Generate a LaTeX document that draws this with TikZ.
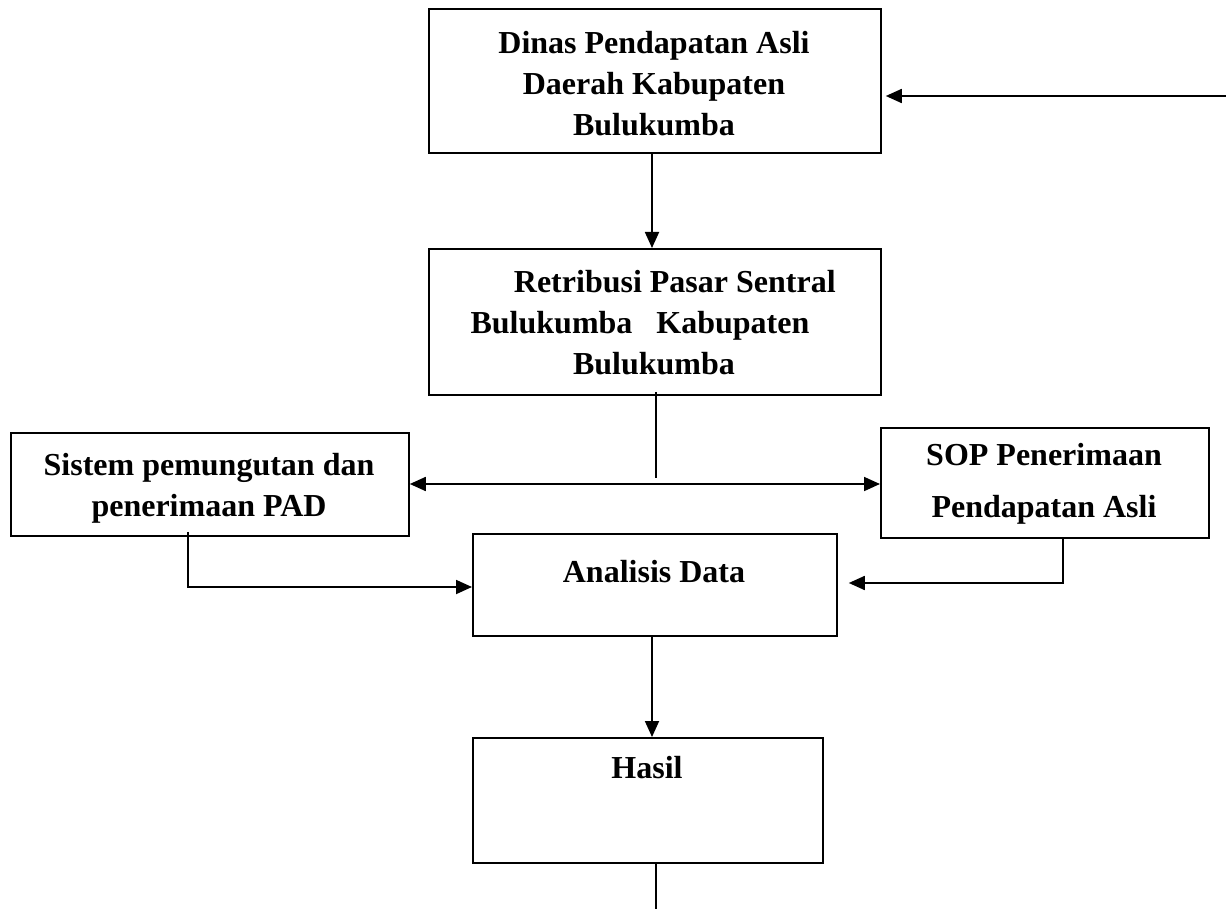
\documentclass[tikz,border=0pt]{standalone}
\usepackage{fontspec}
\setmainfont{Liberation Serif}
\usetikzlibrary{arrows.meta,calc}
\tikzset{
  box/.style={draw, line width=1.8pt, rectangle, anchor=north west, inner sep=0pt},
  lbl/.style={font=\fontsize{32}{41}\selectfont\bfseries, align=center, inner sep=0pt},
  conn/.style={line width=1.8pt},
  arr/.style={conn, -{Triangle[length=16pt,width=14pt]}},
  arrb/.style={conn, {Triangle[length=16pt,width=14pt]}-{Triangle[length=16pt,width=14pt]}}
}
\begin{document}
\begin{tikzpicture}[x=1pt,y=-1pt]
\useasboundingbox (0,0) rectangle (1226,909);
% boxes
\node[box, minimum width=452pt, minimum height=144pt] (b1) at (428,8) {};
\node[box, minimum width=452pt, minimum height=146pt] (b2) at (428,248) {};
\node[box, minimum width=398pt, minimum height=103pt] (bl) at (10,432) {};
\node[box, minimum width=328pt, minimum height=110pt] (br) at (880,427) {};
\node[box, minimum width=364pt, minimum height=102pt] (an) at (472,533) {};
\node[box, minimum width=350pt, minimum height=125pt] (ha) at (472,737) {};
% texts
\node[lbl] (t1) at (654,84) {Dinas Pendapatan Asli\\Daerah Kabupaten\\Bulukumba};
\node[lbl] (t2) at (654,323) {\hspace*{1.3em}Retribusi Pasar Sentral\\Bulukumba\hspace{0.75em}Kabupaten\rule{28pt}{0pt}\\Bulukumba};
\node[lbl] (tl) at (209,488) {Sistem pemungutan dan\\penerimaan PAD};
\node[lbl, font=\fontsize{32}{52}\selectfont\bfseries] (tr) at (1044,484) {SOP Penerimaan\\Pendapatan Asli};
\node[lbl, anchor=base] (ta) at (654,582) {Analisis Data};
\node[lbl, anchor=base] (th) at (647,778) {Hasil};
% coordinates
\coordinate (inR) at (1226,96);
\coordinate (j) at (656,478);
\coordinate (hy) at (656,484);
\coordinate (lx) at (188,587);
\coordinate (rx) at (1063,583);
\coordinate (endB) at (656,909);
% connectors
\draw[arr, shorten >=4pt] (inR) -- (inR -| b1.east);
\draw[arr] (b1.south -| 652,0) -- (b2.north -| 652,0);
\draw[conn] ($(j |- b2.south)+(0,-4)$) -- (j);
\draw[arrb] (bl.east |- hy) -- (br.west |- hy);
\draw[arr] ($(lx |- bl.south)+(0,-5)$) |- (an.west |- lx);
\draw[arr, shorten >=11pt] (rx |- br.south) |- (an.east |- rx);
\draw[arr] (an.south -| 652,0) -- (ha.north -| 652,0);
\draw[conn] (ha.south -| endB) -- (endB);
\end{tikzpicture}
\end{document}
